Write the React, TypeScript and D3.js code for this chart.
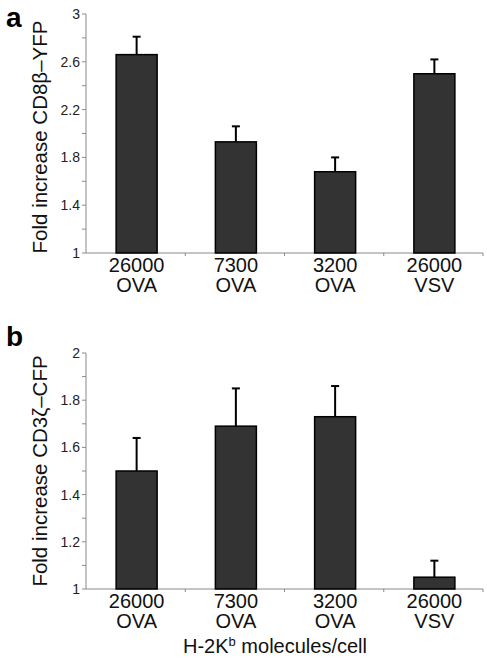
import React from "react";
import * as d3 from "d3";

const categoriesLine1 = ["26000", "7300", "3200", "26000"];
const categoriesLine2 = ["OVA", "OVA", "OVA", "VSV"];
const categories = ["c1", "c2", "c3", "c4"];

const valuesA = [2.66, 1.93, 1.68, 2.5];
const errorsA = [0.15, 0.13, 0.12, 0.12];
const ticksA = [1, 1.2, 1.4, 1.6, 1.8, 2, 2.2, 2.4, 2.6, 2.8, 3];
const tickLabelsA = [1, 1.4, 1.8, 2.2, 2.6, 3];

const valuesB = [1.5, 1.69, 1.73, 1.05];
const errorsB = [0.14, 0.16, 0.13, 0.07];
const ticksB = [1, 1.1, 1.2, 1.3, 1.4, 1.5, 1.6, 1.7, 1.8, 1.9, 2];
const tickLabelsB = [1, 1.2, 1.4, 1.6, 1.8, 2];

const FONT = "'Liberation Sans', Arial, Helvetica, sans-serif";

type PanelProps = {
  letter: string;
  letterY: number;
  title: React.ReactNode;
  titleCenterY: number;
  values: number[];
  errors: number[];
  domain: [number, number];
  top: number;
  bottom: number;
  ticks: number[];
  tickLabels: number[];
};

function Panel(p: PanelProps) {
  const x = d3.scaleBand<string>().domain(categories).range([86, 483]).padding(0);
  const y = d3.scaleLinear().domain(p.domain).range([p.bottom, p.top]);
  const bw = 41;
  const fmt = d3.format("~g");
  const axisColor = "#8a8a8a";
  return (
    <g>
      <text x={6} y={p.letterY} fontFamily={FONT} fontWeight="bold" fontSize={28} fill="#000">
        {p.letter}
      </text>
      <text
        transform={`translate(47,${p.titleCenterY}) rotate(-90)`}
        textAnchor="middle"
        fontFamily={FONT}
        fontSize={20.5}
        fill="#111"
      >
        {p.title}
      </text>
      {/* y axis */}
      <line x1={86} x2={86} y1={y(p.domain[1])} y2={y(p.domain[0])} stroke={axisColor} strokeWidth={1} />
      {p.ticks.map((t) => (
        <line key={"t" + t} x1={82} x2={86} y1={y(t)} y2={y(t)} stroke={axisColor} strokeWidth={1} />
      ))}
      {p.tickLabels.map((t) => (
        <text
          key={"l" + t}
          x={80}
          y={y(t)}
          dy="0.35em"
          textAnchor="end"
          fontFamily={FONT}
          fontSize={14}
          fill="#222"
        >
          {fmt(t)}
        </text>
      ))}
      {/* x axis */}
      <line x1={86} x2={483} y1={y(p.domain[0])} y2={y(p.domain[0])} stroke={axisColor} strokeWidth={1} />
      {categories.map((c) => (
        <line
          key={"xt" + c}
          x1={(x(c) as number) + x.bandwidth()}
          x2={(x(c) as number) + x.bandwidth()}
          y1={y(p.domain[0])}
          y2={y(p.domain[0]) + 3}
          stroke={axisColor}
          strokeWidth={1}
        />
      ))}
      {categories.map((c, i) => {
        const cx = (x(c) as number) + x.bandwidth() / 2 + 1;
        const base = y(p.domain[0]);
        return (
          <g key={"lab" + c}>
            <text x={cx} y={base + 19} textAnchor="middle" fontFamily={FONT} fontSize={20} fill="#111">
              {categoriesLine1[i]}
            </text>
            <text x={cx} y={base + 39} textAnchor="middle" fontFamily={FONT} fontSize={20} fill="#111">
              {categoriesLine2[i]}
            </text>
          </g>
        );
      })}
      {/* bars */}
      {categories.map((c, i) => {
        const cx = (x(c) as number) + x.bandwidth() / 2 + 1;
        const v = p.values[i];
        const e = p.errors[i];
        return (
          <g key={"bar" + c}>
            <line x1={cx} x2={cx} y1={y(v)} y2={y(v + e)} stroke="#000" strokeWidth={2} />
            <line x1={cx - 4} x2={cx + 4} y1={y(v + e)} y2={y(v + e)} stroke="#000" strokeWidth={2} />
            <rect
              x={cx - bw / 2}
              y={y(v)}
              width={bw}
              height={y(p.domain[0]) - y(v)}
              fill="#333333"
              stroke="#000"
              strokeWidth={1.5}
            />
          </g>
        );
      })}
    </g>
  );
}

export default function App() {
  return (
    <svg width={487} height={660} style={{ display: "block", position: "absolute", left: 0, top: 0 }}>
      <rect width={487} height={660} fill="#fff" />
      <Panel
        letter="a"
        letterY={27}
        title={<>Fold increase CD8β–YFP</>}
        titleCenterY={137}
        values={valuesA}
        errors={errorsA}
        domain={[1, 3]}
        top={14}
        bottom={253}
        ticks={ticksA}
        tickLabels={tickLabelsA}
      />
      <Panel
        letter="b"
        letterY={346}
        title={<>Fold increase CD3ζ–CFP</>}
        titleCenterY={471}
        values={valuesB}
        errors={errorsB}
        domain={[1, 2]}
        top={353}
        bottom={589}
        ticks={ticksB}
        tickLabels={tickLabelsB}
      />
      <text x={275} y={653} textAnchor="middle" fontFamily={FONT} fontSize={20} fill="#111">
        H-2K<tspan fontSize={13} dy={-7}>b</tspan>
        <tspan dy={7}> molecules/cell</tspan>
      </text>
    </svg>
  );
}
